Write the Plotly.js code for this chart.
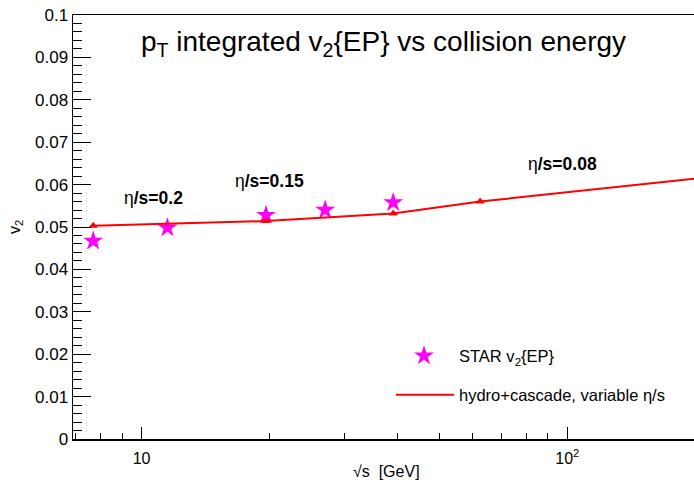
<!DOCTYPE html>
<html>
<head>
<meta charset="utf-8">
<script src="https://cdn.plot.ly/plotly-3.0.1.min.js"></script>
<style>html,body{margin:0;padding:0;background:#fff;}#chart{width:694px;height:483px;}</style>
</head>
<body>
<div id="chart"></div>
<script>
// Data
const starEnergy = [7.7, 11.5, 19.6, 27, 39, 200];
const starV2 = [0.0467, 0.0498, 0.0528, 0.0540, 0.0558, 0.0609];
const modelEnergy = [7.7, 19.6, 39, 62.4, 200];
const modelV2 = [0.0503, 0.0514, 0.0532, 0.0560, 0.0614];
const xTickVals = [10, 100];
const xTickText = ['10', '10<sup>2</sup>'];
const etaLabels = ['η<b>/s=0.2</b>', 'η<b>/s=0.15</b>', 'η<b>/s=0.08</b>'];

const FONT = 'Liberation Sans, Arial, Helvetica, sans-serif';
const W = 694, H = 483, L = 73, R = 0, T = 15, B = 44;
const pw = W - L - R, ph = H - T - B;
const px = x => (x - L) / pw;
const py = y => (H - B - y) / ph;

const traces = [
  {
    x: starEnergy, y: starV2, type: 'scatter', mode: 'markers',
    name: 'STAR v<sub>2</sub>{EP}',
    marker: {symbol: 'star', size: 15, color: '#ff00ff', line: {width: 0}},
    legend: 'legend', cliponaxis: false
  },
  {
    x: modelEnergy, y: modelV2, type: 'scatter', mode: 'lines+markers',
    name: 'hydro+cascade, variable η/s', showlegend: false,
    line: {color: '#ff0000', width: 2},
    marker: {symbol: 'triangle-up', size: 8, color: '#ff0000'}
  },
  {
    x: [null], y: [null], type: 'scatter', mode: 'lines',
    name: 'hydro+cascade, variable η/s',
    line: {color: '#ff0000', width: 2},
    legend: 'legend2'
  }
];

const layout = {
  width: W, height: H,
  margin: {l: L, r: R, t: T, b: B, pad: 0},
  paper_bgcolor: '#fff', plot_bgcolor: '#fff',
  font: {family: FONT, color: '#000', size: 16},
  title: {
    text: 'p<sub>T</sub> integrated v<sub>2</sub>{EP} vs collision energy',
    font: {family: FONT, size: 28, color: '#000'},
    xref: 'paper', x: 0.5, xanchor: 'center',
    yref: 'container', y: 1 - 41 / H, yanchor: 'middle'
  },
  xaxis: {
    type: 'log', range: [0.839, 2.2975],
    showgrid: false, zeroline: false,
    showline: true, linecolor: '#000', linewidth: 1.5, mirror: true,
    ticks: 'inside', ticklen: 12, tickwidth: 1, tickcolor: '#000',
    tickmode: 'array', tickvals: xTickVals, ticktext: xTickText,
    tickfont: {family: FONT, size: 16},
    ticklabelstandoff: 4,
    minor: {ticks: 'inside', ticklen: 6, tickwidth: 1, tickcolor: '#000', dtick: 'D1', showgrid: false}
  },
  yaxis: {
    range: [0, 0.1],
    showgrid: false, zeroline: false,
    showline: true, linecolor: '#000', linewidth: 1.5,
    ticks: 'inside', ticklen: 18, tickwidth: 1, tickcolor: '#000',
    dtick: 0.01, tick0: 0,
    tickfont: {family: FONT, size: 17},
    minor: {ticks: 'inside', ticklen: 9, tickwidth: 1, tickcolor: '#000', dtick: 0.002, showgrid: false}
  },
  showlegend: true,
  legend: {
    x: px(389), xanchor: 'left', y: py(356), yanchor: 'middle',
    bgcolor: 'rgba(0,0,0,0)', borderwidth: 0,
    font: {family: FONT, size: 16.5, color: '#000'},
    itemwidth: 60
  },
  legend2: {
    x: px(391), xanchor: 'left', y: py(395), yanchor: 'middle',
    bgcolor: 'rgba(0,0,0,0)', borderwidth: 0,
    font: {family: FONT, size: 16.5, color: '#000'},
    itemwidth: 58
  },
  annotations: [
    {text: etaLabels[0], xref: 'paper', yref: 'paper', x: px(122), y: py(198), xanchor: 'left', yanchor: 'middle', showarrow: false, font: {family: FONT, size: 17.5}},
    {text: etaLabels[1], xref: 'paper', yref: 'paper', x: px(233), y: py(181), xanchor: 'left', yanchor: 'middle', showarrow: false, font: {family: FONT, size: 17.5}},
    {text: etaLabels[2], xref: 'paper', yref: 'paper', x: px(526), y: py(164), xanchor: 'left', yanchor: 'middle', showarrow: false, font: {family: FONT, size: 17.5}},
    {text: 'v<sub>2</sub>', xref: 'paper', yref: 'paper', x: px(15), y: py(227), xanchor: 'center', yanchor: 'middle', textangle: -90, showarrow: false, font: {family: FONT, size: 16}},
    {text: '√s  [GeV]', xref: 'paper', yref: 'paper', x: px(386), y: py(472), xanchor: 'center', yanchor: 'middle', showarrow: false, font: {family: FONT, size: 16}}
  ]
};

Plotly.newPlot('chart', traces, layout, {displayModeBar: false, staticPlot: true});
</script>
</body>
</html>
